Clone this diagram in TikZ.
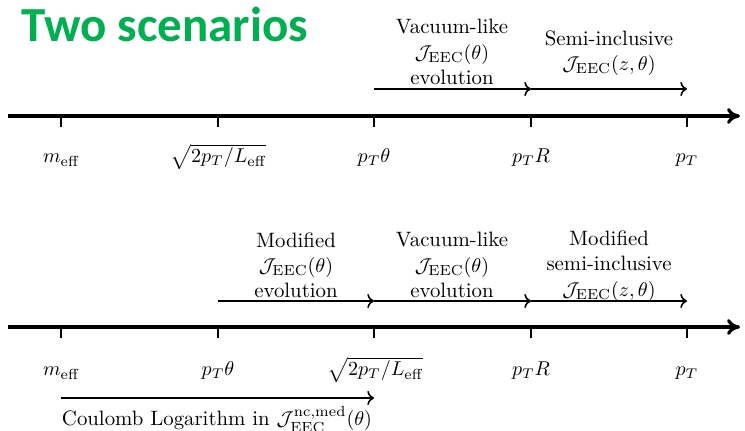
\documentclass[tikz,border=0pt]{standalone}
\usepackage{amsmath, amssymb}
\usepackage{fontspec}
\usepackage{xcolor}
\definecolor{title-green}{HTML}{00B050}
\newfontfamily\titlefont{Carlito}
\usetikzlibrary{arrows.meta}

\begin{document}
\begin{tikzpicture}[x=0.5pt, y=-0.5pt,
      every node/.style={font=\fontsize{10.4}{12.6}\selectfont},
      axis/.style={line width=1.6pt, -{To[length=6.5pt, width=8pt]}},
      tick/.style={line width=1pt},
      flow/.style={thick, ->},
      scale-lbl/.style={anchor=base, inner sep=0pt},
      regime/.style={align=center, inner sep=0pt}]
    \useasboundingbox (0,0) rectangle (745,431);
    \node[anchor=base west, inner sep=0pt, text=title-green,
          font=\titlefont\bfseries\fontsize{24.5}{30}\selectfont] (title) at (21,42) {Two scenarios};

    \coordinate (s1) at (8,116);
    \coordinate (e1) at (740,116);
    \draw[axis] (s1) -- (e1);
    \foreach \i/\x in {1/61, 2/218, 3/374, 4/531, 5/687} {
      \coordinate (u\i) at (\x,116);
      \draw[tick] (u\i) -- ++(0,11);
      \coordinate (f\i) at (\x,89);
    }
    \node[scale-lbl] (umeff) at (61,163) {$m_{\text{eff}}$};
    \node[scale-lbl] (uleff) at (218,163) {$\sqrt{2p_T/L_{\text{eff}}}$};
    \node[scale-lbl] (utheta) at (374,163) {$p_T\theta$};
    \node[scale-lbl] (ujet) at (531,163) {$p_TR$};
    \node[scale-lbl] (upt) at (687,163) {$p_T$};
    \draw[flow] (f3) -- (f4);
    \draw[flow] (f4) -- (f5);
    \node[regime] (uvac) at (452,52) {Vacuum-like\\ $\mathcal{J}_{\text{EEC}}(\theta)$\\ evolution};
    \node[regime] (usemi) at (609,53) {Semi-inclusive\\ $\mathcal{J}_{\text{EEC}}(z,\theta)$};

    \coordinate (s2) at (8,327);
    \coordinate (e2) at (740,327);
    \draw[axis] (s2) -- (e2);
    \foreach \i/\x in {1/61, 2/218, 3/374, 4/531, 5/687} {
      \coordinate (l\i) at (\x,327);
      \draw[tick] (l\i) -- ++(0,11);
      \coordinate (g\i) at (\x,301);
    }
    \node[scale-lbl] (lmeff) at (61,376) {$m_{\text{eff}}$};
    \node[scale-lbl] (ltheta) at (218,376) {$p_T\theta$};
    \node[scale-lbl] (lleff) at (375,376) {$\sqrt{2p_T/L_{\text{eff}}}$};
    \node[scale-lbl] (ljet) at (531,376) {$p_TR$};
    \node[scale-lbl] (lpt) at (687,376) {$p_T$};
    \draw[flow] (g2) -- (g3);
    \draw[flow] (g3) -- (g4);
    \draw[flow] (g4) -- (g5);
    \node[regime] (lmod) at (296,265) {Modified\\ $\mathcal{J}_{\text{EEC}}(\theta)$\\ evolution};
    \node[regime] (lvac) at (452,265) {Vacuum-like\\ $\mathcal{J}_{\text{EEC}}(\theta)$\\ evolution};
    \node[regime] (lsemi) at (609,266) {Modified\\ semi-inclusive\\ $\mathcal{J}_{\text{EEC}}(z,\theta)$};

    \coordinate (c1) at (61,398);
    \coordinate (c2) at (374,398);
    \draw[flow] (c1) -- (c2);
    \node[scale-lbl] (coul) at (217,426) {Coulomb Logarithm in $\mathcal{J}^{\text{nc,med}}_{\text{EEC}}(\theta)$};
  \end{tikzpicture}
\end{document}
